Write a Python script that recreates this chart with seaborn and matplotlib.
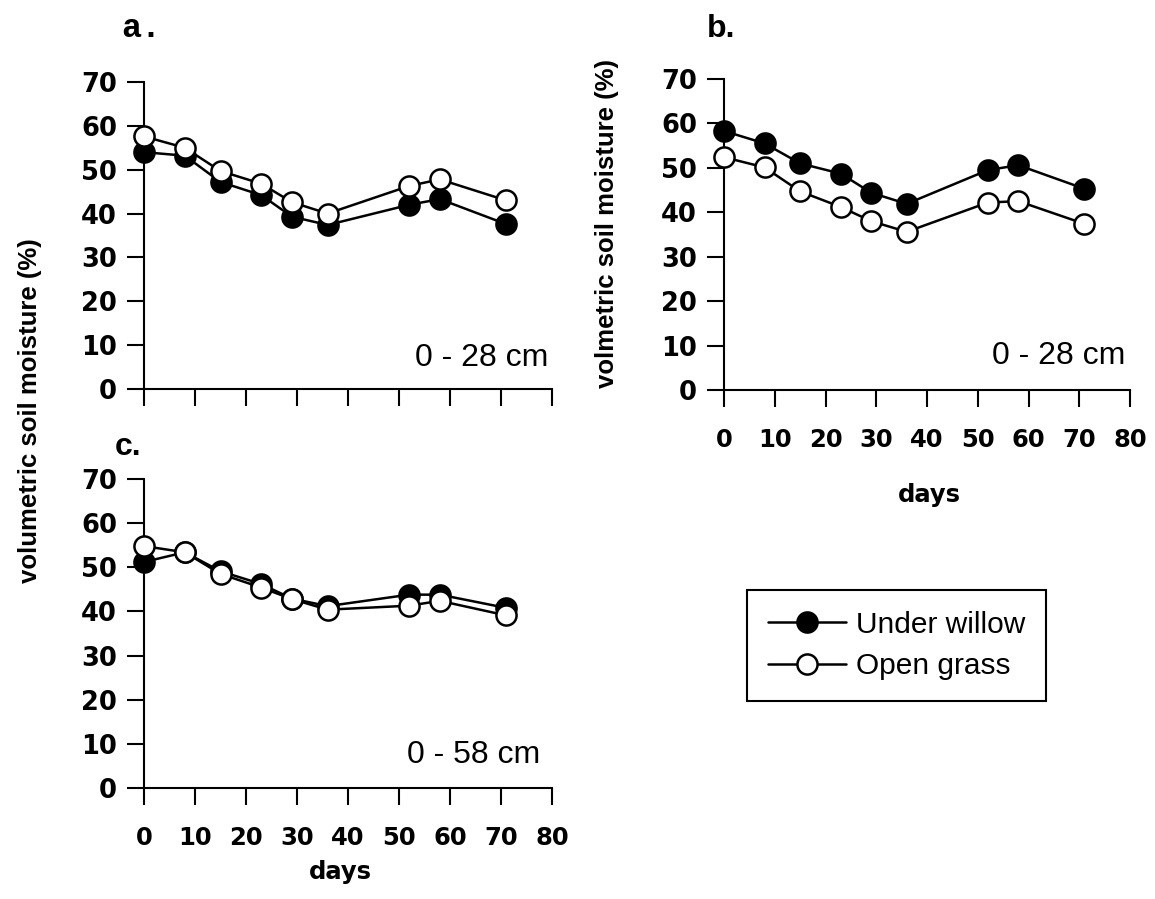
import matplotlib
matplotlib.use("Agg")
import matplotlib.pyplot as plt
import seaborn as sns
import pandas as pd
from matplotlib.lines import Line2D

# Sampling days after the start of the measurement period
days = [0, 8, 15, 23, 29, 36, 52, 58, 71]

# Volumetric soil moisture (%) under willow canopy and in open grass
willow_a = [54.0, 53.2, 47.2, 44.2, 39.3, 37.4, 42.0, 43.3, 37.6]
grass_a = [57.6, 55.0, 49.7, 46.8, 42.6, 40.0, 46.3, 47.8, 43.0]

willow_b = [58.3, 55.5, 51.0, 48.7, 44.4, 41.9, 49.5, 50.6, 45.3]
grass_b = [52.4, 50.1, 44.7, 41.2, 38.0, 35.6, 42.2, 42.5, 37.4]

willow_c = [51.2, 53.4, 49.1, 46.2, 42.9, 41.2, 43.8, 43.8, 40.8]
grass_c = [54.8, 53.4, 48.5, 45.4, 42.8, 40.4, 41.3, 42.4, 39.1]

series_labels = ["Under willow", "Open grass"]
depth_labels = ["0 - 28 cm", "0 - 28 cm", "0 - 58 cm"]
panel_letters = ["a.", "b.", "c."]
x_ticks = [0, 10, 20, 30, 40, 50, 60, 70, 80]
y_ticks = [0, 10, 20, 30, 40, 50, 60, 70]

sns.set_style("ticks")
plt.rcParams["font.family"] = ["Liberation Sans", "DejaVu Sans"]
for key in ("text.color", "axes.labelcolor", "xtick.color", "ytick.color",
            "axes.edgecolor"):
    plt.rcParams[key] = "black"

W, H = 1155, 899
fig = plt.figure(figsize=(W / 100, H / 100), dpi=100)


def fig_rect(left, top, right, bottom):
    return [left / W, 1 - bottom / H, (right - left) / W, (bottom - top) / H]


ax_a = fig.add_axes(fig_rect(144, 82, 552, 389))
ax_b = fig.add_axes(fig_rect(724, 79, 1130, 390))
ax_c = fig.add_axes(fig_rect(144, 479, 552, 788))

MS = 14.5
MEW = 1.8
LW = 1.8
TICK_FONT = "DejaVu Sans"


def draw_panel(ax, willow, grass, depth, depth_xy, show_xlabels):
    df = pd.DataFrame({"days": days, "willow": willow, "grass": grass})
    sns.lineplot(data=df, x="days", y="willow", ax=ax, color="black",
                 linewidth=LW, marker="o", markersize=MS,
                 markerfacecolor="black", markeredgecolor="black",
                 markeredgewidth=MEW, estimator=None, errorbar=None,
                 clip_on=False, zorder=3)
    sns.lineplot(data=df, x="days", y="grass", ax=ax, color="black",
                 linewidth=LW, marker="o", markersize=MS,
                 markerfacecolor="white", markeredgecolor="black",
                 markeredgewidth=MEW, estimator=None, errorbar=None,
                 clip_on=False, zorder=4)
    ax.set_xlim(0, 80)
    ax.set_ylim(0, 70)
    ax.set_xticks(x_ticks)
    ax.set_yticks(y_ticks)
    ax.set_xlabel("")
    ax.set_ylabel("")
    ax.set_facecolor("none")
    for side in ("top", "right"):
        ax.spines[side].set_visible(False)
    for side in ("left", "bottom"):
        ax.spines[side].set_linewidth(1.5)
        ax.spines[side].set_color("black")
    ax.tick_params(axis="both", direction="out", length=12.5, width=1.5,
                   color="black")
    ax.tick_params(axis="y", pad=7)
    ax.tick_params(axis="x", pad=15)
    for lab in ax.get_yticklabels():
        lab.set_fontfamily(TICK_FONT)
        lab.set_fontweight("bold")
        lab.set_fontsize(18.5)
    if show_xlabels:
        for lab in ax.get_xticklabels():
            lab.set_fontfamily(TICK_FONT)
            lab.set_fontweight("bold")
            lab.set_fontsize(17.5)
    else:
        ax.set_xticklabels([])
    ax.text(depth_xy[0], depth_xy[1], depth, ha="right", va="baseline",
            fontsize=23, color="black")


draw_panel(ax_a, willow_a, grass_a, depth_labels[0], (79.2, 5.3), False)
draw_panel(ax_b, willow_b, grass_b, depth_labels[1], (79.0, 5.9), True)
draw_panel(ax_c, willow_c, grass_c, depth_labels[2], (77.6, 5.7), True)

# Panel letters
fig.text(121 / W, 1 - 37 / H, panel_letters[0], ha="left", va="baseline",
         fontsize=24, fontweight="bold", family="Liberation Mono")
fig.text(707 / W, 1 - 37 / H, panel_letters[1], ha="left", va="baseline",
         fontsize=23, fontweight="bold")
fig.text(115 / W, 1 - 455 / H, panel_letters[2], ha="left", va="baseline",
         fontsize=23, fontweight="bold")

# Axis titles
fig.text(30 / W, 1 - 411 / H, "volumetric soil moisture (%)", rotation=90,
         ha="center", va="center", fontsize=18.5, fontweight="bold")
fig.text(607 / W, 1 - 224 / H, "volmetric soil moisture (%)", rotation=90,
         ha="center", va="center", fontsize=18.5, fontweight="bold")
fig.text(929 / W, 1 - 495 / H, "days", ha="center", va="center",
         fontsize=17.5, fontweight="bold", family=TICK_FONT)
fig.text(340 / W, 1 - 872 / H, "days", ha="center", va="center",
         fontsize=17.5, fontweight="bold", family=TICK_FONT)

# Legend
handles = [
    Line2D([], [], color="black", linewidth=LW, marker="o", markersize=MS,
           markerfacecolor="black", markeredgecolor="black",
           markeredgewidth=MEW),
    Line2D([], [], color="black", linewidth=LW, marker="o", markersize=MS,
           markerfacecolor="white", markeredgecolor="black",
           markeredgewidth=MEW),
]
leg = fig.legend(handles, series_labels, loc="upper left",
                 bbox_to_anchor=(747 / W, 1 - 590 / H), frameon=True,
                 fancybox=False, shadow=False, edgecolor="black",
                 framealpha=1, fontsize=21.5, handlelength=2.6,
                 handletextpad=0.35, labelspacing=0.45, borderpad=0.7,
                 borderaxespad=0)
leg.get_frame().set_linewidth(1.5)

fig.savefig("out.png", dpi=100, facecolor="white")
